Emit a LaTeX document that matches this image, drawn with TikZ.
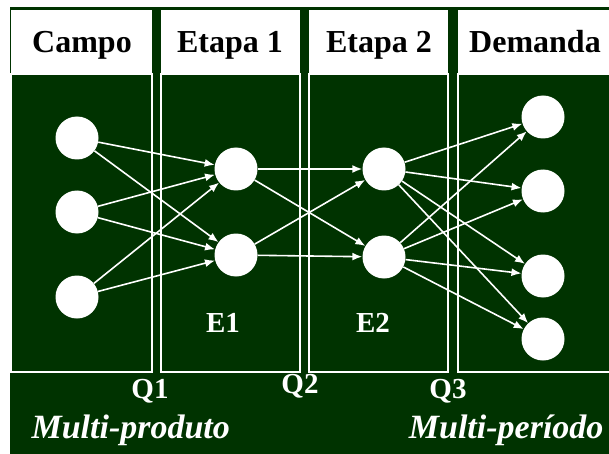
\documentclass[tikz,border=0pt]{standalone}
\usepackage{fontspec}
\setmainfont{Liberation Serif}
\usetikzlibrary{arrows.meta}
\definecolor{verde}{RGB}{0,51,0}
\tikzset{>={Latex[length=10pt,width=8pt]}}

\begin{document}
\begin{tikzpicture}[x=1pt, y=-1pt,
	no/.style={circle, fill=white, minimum size=43pt, inner sep=0pt},
	caixa/.style={draw=white, line width=1.2pt, fill=verde},
	titulo/.style={font=\fontsize{32}{36}\selectfont\bfseries, text=black, anchor=base},
	rotulo/.style={font=\fontsize{29}{32}\selectfont\bfseries, text=white, anchor=base},
	lado/.style={font=\fontsize{34}{38}\selectfont\bfseries\itshape, text=white},
	seta/.style={->, white, line width=1.6pt}]
	\useasboundingbox (0,0) rectangle (609,454);
	\fill[verde] (10,7) rectangle (609,454);
	% colunas
	\foreach \xa/\xb in {11/152, 161/300, 309/448, 458/611}{
		\draw[caixa] (\xa,74) rectangle (\xb,372);
		\fill[white] (\xa,10) rectangle (\xb,73);
	}
	\node[titulo] (tcampo) at (82, 53) {Campo};
	\node[titulo] (tetapa1) at (230, 53) {Etapa 1};
	\node[titulo] (tetapa2) at (379, 53) {Etapa 2};
	\node[titulo] (tdemanda) at (535, 53) {Demanda};
	% nos
	\node[no] (c1) at (77, 138) {};
	\node[no] (c2) at (77, 212) {};
	\node[no] (c3) at (77, 297) {};
	\node[no] (e11) at (236, 169) {};
	\node[no] (e12) at (236, 255) {};
	\node[no] (e21) at (384, 169) {};
	\node[no] (e22) at (384, 257) {};
	\node[no] (d1) at (543, 117) {};
	\node[no] (d2) at (543, 191) {};
	\node[no] (d3) at (543, 276) {};
	\node[no] (d4) at (543, 339) {};
	% setas
	\foreach \a in {c1, c2, c3}
		\foreach \b in {e11, e12}
			\draw[seta] (\a) -- (\b);
	\foreach \a in {e11, e12}
		\foreach \b in {e21, e22}
			\draw[seta] (\a) -- (\b);
	\foreach \a in {e21, e22}
		\foreach \b in {d1, d2, d3, d4}
			\draw[seta] (\a) -- (\b);
	% rotulos
	\node[rotulo] (le1) at (223, 332) {E1};
	\node[rotulo] (le2) at (373, 332) {E2};
	\node[rotulo] (q1) at (150, 398) {Q1};
	\node[rotulo] (q2) at (300, 393) {Q2};
	\node[rotulo] (q3) at (448, 398) {Q3};
	\node[lado, anchor=base west] (multiprod) at (28, 438) {Multi-produto};
	\node[lado, anchor=base east] (multiper) at (607, 438) {Multi-período};
\end{tikzpicture}
\end{document}
